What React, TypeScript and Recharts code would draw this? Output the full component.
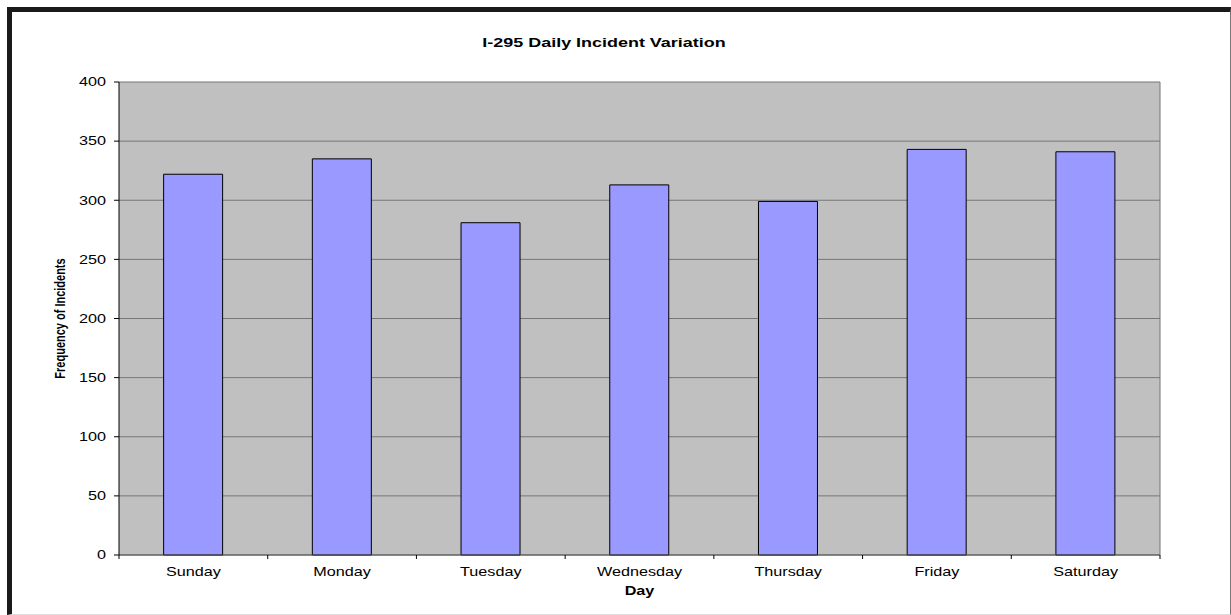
import { BarChart, Bar, XAxis, YAxis, CartesianGrid } from 'recharts';

const days = ['Sunday', 'Monday', 'Tuesday', 'Wednesday', 'Thursday', 'Friday', 'Saturday'];
const incidents = [322, 335, 281, 313, 299, 343, 341];
const yTicks = [0, 50, 100, 150, 200, 250, 300, 350, 400];

const data = days.map((day, i) => ({ day, incidents: incidents[i] }));

const W = 1231;
const H = 615;
const PLOT_LEFT = 119;
const PLOT_RIGHT = 1160;
const PLOT_TOP = 82;
const PLOT_BOTTOM = 555;
const BAND = (PLOT_RIGHT - PLOT_LEFT) / days.length;
const FONT = 'Arial, "Liberation Sans", sans-serif';
const STRETCH = 1.35;

function DayTick(props: any) {
  const { x, y, payload, index } = props;
  const left = x - BAND / 2;
  const right = x + BAND / 2;
  return (
    <g>
      <line x1={left} y1={y} x2={left} y2={y + 4} stroke="#000" />
      {index === days.length - 1 && <line x1={right} y1={y} x2={right} y2={y + 4} stroke="#000" />}
      <g transform={`translate(${x},${y + 21})`}>
        <text transform={`scale(${STRETCH},1)`} textAnchor="middle" fontSize={12} fontFamily={FONT} fill="#000">
          {payload.value}
        </text>
      </g>
    </g>
  );
}

function ValueTick(props: any) {
  const { x, y, payload } = props;
  return (
    <g transform={`translate(${x},${y})`}>
      <text transform={`scale(${STRETCH},1)`} textAnchor="end" dy="0.36em" fontSize={12} fontFamily={FONT} fill="#000">
        {payload.value}
      </text>
    </g>
  );
}

export default function App() {
  return (
    <div style={{ position: 'absolute', left: 0, top: 0, width: W, height: H, background: '#fff' }}>
      <div
        style={{
          position: 'absolute',
          left: 7,
          top: 7,
          width: W - 7 - 5 - 1,
          height: H - 7 - 5 - 1,
          borderTop: '5px solid #1a1a1a',
          borderLeft: '5px solid #1a1a1a',
          borderRight: '1px solid #777',
          borderBottom: '1px solid #ddd',
        }}
      />
      <div
        style={{
          position: 'absolute',
          left: 404,
          width: 400,
          top: 35,
          textAlign: 'center',
          fontFamily: FONT,
          fontWeight: 'bold',
          fontSize: 13,
          lineHeight: '15px',
          color: '#000',
          transform: 'scaleX(1.38)',
        }}
      >
        I-295 Daily Incident Variation
      </div>
      <div style={{ position: 'absolute', left: 0, top: 0 }}>
        <BarChart
          width={W}
          height={H}
          data={data}
          margin={{ top: PLOT_TOP, right: W - PLOT_RIGHT, bottom: 0, left: 0 }}
          barCategoryGap="30%"
        >
          <CartesianGrid
            fill="#C0C0C0"
            stroke="#777"
            verticalCoordinatesGenerator={({ offset }: any) => [offset.left + offset.width]}
          />
          <XAxis
            dataKey="day"
            height={H - PLOT_BOTTOM}
            tickSize={0}
            tickMargin={0}
            tickLine={false}
            axisLine={{ stroke: '#555' }}
            tick={<DayTick />}
            interval={0}
            label={{
              content: ({ viewBox }: any) => (
                <g transform={`translate(${viewBox.x + viewBox.width / 2},${PLOT_BOTTOM + 40})`}>
                  <text transform={`scale(${STRETCH},1)`} textAnchor="middle" fontSize={12} fontWeight="bold" fontFamily={FONT} fill="#000">
                    Day
                  </text>
                </g>
              ),
            }}
          />
          <YAxis
            width={PLOT_LEFT}
            domain={[0, 400]}
            ticks={yTicks}
            interval={0}
            tickSize={5}
            tickMargin={8}
            tickLine={{ stroke: '#000' }}
            axisLine={{ stroke: '#000' }}
            tick={<ValueTick />}
            label={{
              content: ({ viewBox }: any) => (
                <g transform={`translate(${viewBox.x + 65},${viewBox.y + viewBox.height / 2}) scale(1.25,1) rotate(-90)`}>
                  <text textAnchor="middle" fontSize={11} fontWeight="bold" fontFamily={FONT} fill="#000">
                    Frequency of Incidents
                  </text>
                </g>
              ),
            }}
          />
          <Bar dataKey="incidents" fill="#9999FF" stroke="#000" strokeWidth={1} isAnimationActive={false} />
        </BarChart>
      </div>
    </div>
  );
}
